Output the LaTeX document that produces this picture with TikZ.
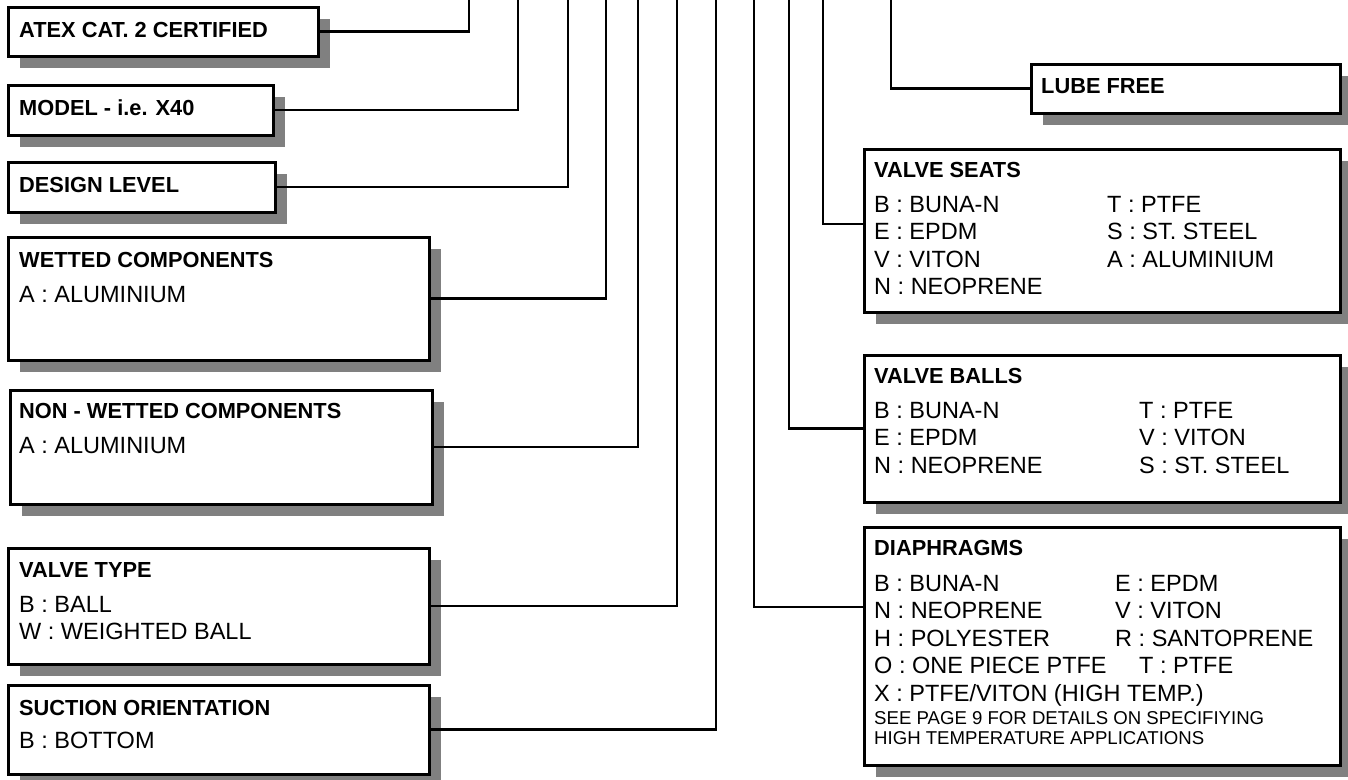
\documentclass[tikz,border=0pt]{standalone}
\usepackage{fontspec}
\setmainfont{Liberation Sans}
\usetikzlibrary{positioning,shadows}

\tikzset{
  codebox/.style={draw, line width=3pt, fill=white, inner sep=0pt, outer sep=0pt,
    anchor=north west,
    drop shadow={shadow xshift=12pt, shadow yshift=-12pt, fill=gray, opacity=1}},
  wire/.style={line width=2.5pt},
  heading/.style={font=\bfseries\fontsize{21.8}{25}\selectfont, inner sep=0pt, anchor=base west},
  entries/.style={font=\fontsize{23.5}{27.5}\selectfont, inner sep=0pt, anchor=base west},
  footnote/.style={font=\fontsize{18.6}{20.5}\selectfont, inner sep=0pt, anchor=base west}
}

\begin{document}
\begin{tikzpicture}[x=1pt, y=-1pt]
    \useasboundingbox (0,0) rectangle (1348,779);

    % === LEFT COLUMN ===
    \node[codebox, minimum width=310pt, minimum height=49pt] (atex) at (8,7) {};
    \node[heading] (atexT) at ([xshift=11pt, yshift=-30pt]atex.north west) {ATEX CAT. 2 CERTIFIED};

    \node[codebox, minimum width=265pt, minimum height=50pt] (model) at (8,85) {};
    \node[heading] (modelT) at ([xshift=11pt, yshift=-30pt]model.north west) {MODEL - i.e. X40};

    \node[codebox, minimum width=267pt, minimum height=50pt] (design) at (8,162) {};
    \node[heading] (designT) at ([xshift=11pt, yshift=-30pt]design.north west) {DESIGN LEVEL};

    % Wetted components
    \node[codebox, minimum width=421pt, minimum height=123pt] (wetted) at (8,237) {};
    \node[heading] (wettedT) at ([xshift=11pt, yshift=-30pt]wetted.north west) {WETTED COMPONENTS};
    \node[entries] (wettedL) at ([yshift=-35pt]wettedT.base west)
        {\begin{tabular}[t]{@{}l@{}}A : ALUMINIUM\end{tabular}};

    % Non-wetted components
    \node[codebox, minimum width=422pt, minimum height=114pt] (nonwet) at (10,390) {};
    \node[heading] (nonwetT) at ([xshift=9pt, yshift=-28pt]nonwet.north west) {NON - WETTED COMPONENTS};
    \node[entries] (nonwetL) at ([yshift=-35pt]nonwetT.base west)
        {\begin{tabular}[t]{@{}l@{}}A : ALUMINIUM\end{tabular}};

    % Valve type
    \node[codebox, minimum width=421pt, minimum height=116pt] (vtype) at (8,548) {};
    \node[heading] (vtypeT) at ([xshift=11pt, yshift=-29pt]vtype.north west) {VALVE TYPE};
    \node[entries] (vtypeL) at ([yshift=-35pt]vtypeT.base west)
        {\begin{tabular}[t]{@{}l@{}}B : BALL\\W : WEIGHTED BALL\end{tabular}};

    % Suction orientation
    \node[codebox, minimum width=421pt, minimum height=89pt] (suction) at (8,685) {};
    \node[heading] (suctionT) at ([xshift=11pt, yshift=-30pt]suction.north west) {SUCTION ORIENTATION};
    \node[entries] (suctionL) at ([yshift=-33pt]suctionT.base west)
        {\begin{tabular}[t]{@{}l@{}}B : BOTTOM\end{tabular}};

    % === RIGHT COLUMN ===
    \node[codebox, minimum width=309pt, minimum height=49pt] (lube) at (1031,64) {};
    \node[heading] (lubeT) at ([xshift=10pt, yshift=-29pt]lube.north west) {LUBE FREE};

    % Valve seats
    \node[codebox, minimum width=476pt, minimum height=163pt] (seats) at (864,149) {};
    \node[heading] (seatsT) at ([xshift=10pt, yshift=-28pt]seats.north west) {VALVE SEATS};
    \node[entries] (seatsL) at ([yshift=-35pt]seatsT.base west)
        {\begin{tabular}[t]{@{}p{233pt}@{}l@{}}
         B : BUNA-N & T : PTFE\\
         E : EPDM & S : ST. STEEL\\
         V : VITON & A : ALUMINIUM\\
         N : NEOPRENE &
         \end{tabular}};

    % Valve balls
    \node[codebox, minimum width=476pt, minimum height=147pt] (balls) at (864,355) {};
    \node[heading] (ballsT) at ([xshift=10pt, yshift=-28pt]balls.north west) {VALVE BALLS};
    \node[entries] (ballsL) at ([yshift=-35pt]ballsT.base west)
        {\begin{tabular}[t]{@{}p{265pt}@{}l@{}}
         B : BUNA-N & T : PTFE\\
         E : EPDM & V : VITON\\
         N : NEOPRENE & S : ST. STEEL
         \end{tabular}};

    % Diaphragms
    \node[codebox, minimum width=476pt, minimum height=238pt] (diaph) at (864,527) {};
    \node[heading] (diaphT) at ([xshift=10pt, yshift=-28pt]diaph.north west) {DIAPHRAGMS};
    \node[entries] (diaphL) at ([yshift=-36pt]diaphT.base west)
        {\begin{tabular}[t]{@{}p{241pt}@{}l@{}}
         B : BUNA-N & E : EPDM\\
         N : NEOPRENE & V : VITON\\
         H : POLYESTER & R : SANTOPRENE\\
         O : ONE PIECE PTFE & \hspace{24pt}T : PTFE\\
         \multicolumn{2}{@{}l@{}}{X : PTFE/VITON (HIGH TEMP.)}
         \end{tabular}};
    \node[footnote] (diaphN) at ([yshift=-133pt]diaphL.base west)
        {\begin{tabular}[t]{@{}l@{}}
         SEE PAGE 9 FOR DETAILS ON SPECIFIYING\\
         HIGH TEMPERATURE APPLICATIONS
         \end{tabular}};

    % === CONNECTORS (to the top edge) ===
    \foreach \b/\x in {atex/469, model/518, design/568, wetted/606,
                       nonwet/638, vtype/677, suction/716}{
        \coordinate (\b-top) at (\x,-2);
        \draw[wire] (\b.east) -| (\b-top);
    }
    \coordinate (lube-top) at (891,-2);
    \coordinate (seats-top) at (823,-2);
    \coordinate (balls-top) at (789,-2);
    \coordinate (diaph-top) at (754,-2);
    \draw[wire] (lube.west) -| (lube-top);
    \draw[wire] ([yshift=6.5pt]seats.west) -| (seats-top);
    \draw[wire] (balls.west) -| (balls-top);
    \draw[wire] ([yshift=39pt]diaph.west) -| (diaph-top);
\end{tikzpicture}
\end{document}
